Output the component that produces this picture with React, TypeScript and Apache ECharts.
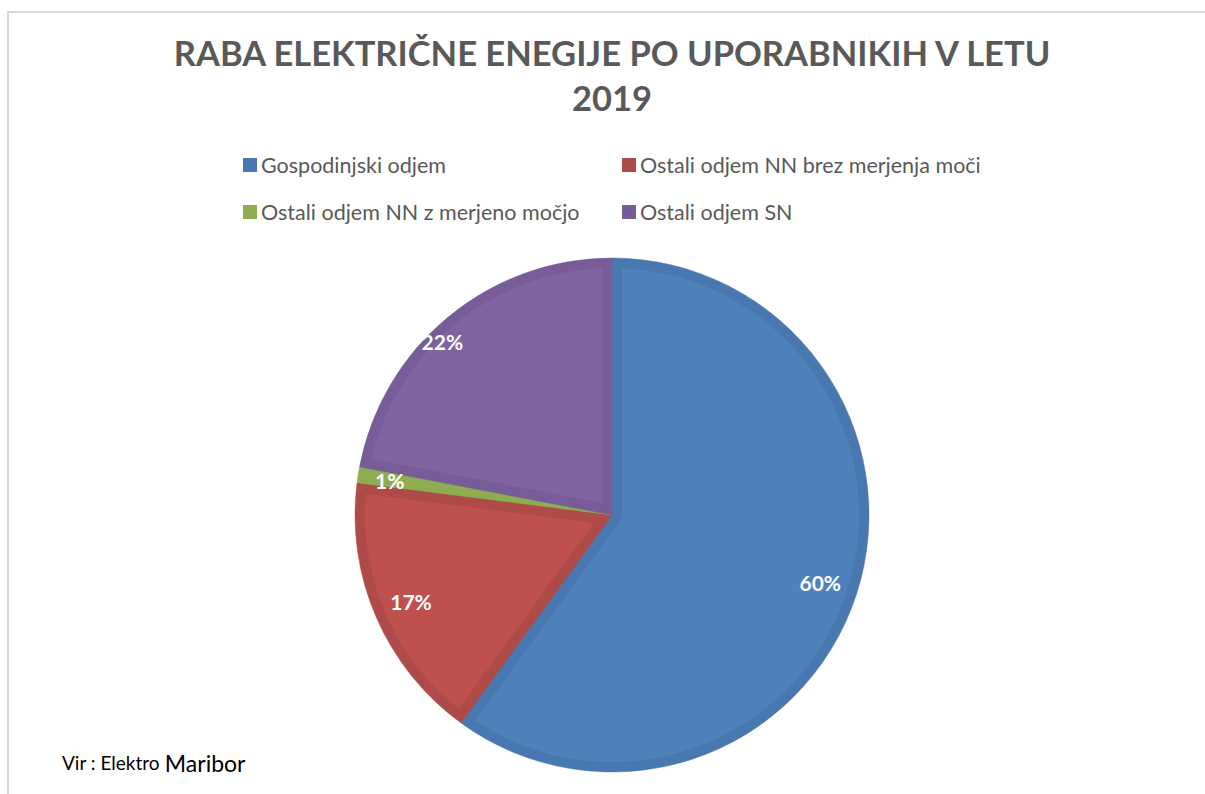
import React, { useEffect, useRef } from "react";
import * as echarts from "echarts";

const TITLE_LINES = ["RABA ELEKTRIČNE ENEGIJE PO UPORABNIKIH V LETU", "2019"];
const CATEGORIES = [
  "Gospodinjski odjem",
  "Ostali odjem NN brez merjenja moči",
  "Ostali odjem NN z merjeno močjo",
  "Ostali odjem SN",
];
const VALUES = [60, 17, 1, 22];
const FILL_COLORS = ["#4F81BD", "#C0504D", "#9BBB59", "#8064A2"];
const EDGE_COLORS = ["#4977B0", "#AE4A47", "#8DAD50", "#775C97"];
const SOURCE_PREFIX = "Vir : Elektro ";
const SOURCE_NAME = "Maribor";

const CX = 612;
const CY = 515;
const R = 257;
const EDGE = 10;

export default function App() {
  const ref = useRef<HTMLDivElement>(null);
  useEffect(() => {
    if (!ref.current) return;
    const chart = echarts.init(ref.current, undefined, { renderer: "svg" });
    const total = VALUES.reduce((a, b) => a + b, 0);
    const starts: number[] = [];
    let acc = 0;
    VALUES.forEach((v) => {
      starts.push(acc);
      acc += v;
    });
    const u = (phi: number) => [Math.sin(phi), -Math.cos(phi)];

    const renderItem = (params: any, api: any) => {
      const i = params.dataIndex;
      const v = api.value(0);
      const phi0 = (starts[i] / total) * Math.PI * 2;
      const phi1 = phi0 + (v / total) * Math.PI * 2;
      const theta = phi1 - phi0;
      const children: any[] = [
        {
          type: "sector",
          shape: {
            cx: CX,
            cy: CY,
            r0: 0,
            r: R,
            startAngle: phi0 - Math.PI / 2,
            endAngle: phi1 - Math.PI / 2,
            clockwise: true,
          },
          style: { fill: EDGE_COLORS[i], stroke: EDGE_COLORS[i], lineWidth: 0.5 },
        },
      ];
      const Ri = R - EDGE;
      const delta = Math.asin(EDGE / Ri);
      const a0 = phi0 + delta;
      const a1 = phi1 - delta;
      let valid = a1 > a0;
      const pts: number[][] = [];
      if (valid) {
        const steps = Math.max(4, Math.ceil((a1 - a0) / 0.02));
        for (let k = 0; k <= steps; k++) {
          const a = a0 + ((a1 - a0) * k) / steps;
          const d = u(a);
          pts.push([CX + Ri * d[0], CY + Ri * d[1]]);
        }
        if (theta < Math.PI) {
          const dist = EDGE / Math.sin(theta / 2);
          if (dist >= Ri * Math.cos(theta / 2) - 1) valid = false;
          const m = u((phi0 + phi1) / 2);
          pts.push([CX + dist * m[0], CY + dist * m[1]]);
        } else {
          const n1 = [-Math.cos(phi1), -Math.sin(phi1)];
          const n0 = [Math.cos(phi0), Math.sin(phi0)];
          pts.push([CX + EDGE * n1[0], CY + EDGE * n1[1]]);
          pts.push([CX + EDGE * n0[0], CY + EDGE * n0[1]]);
        }
      }
      if (valid) {
        children.push({
          type: "polygon",
          shape: { points: pts },
          style: { fill: FILL_COLORS[i] },
        });
      }
      return { type: "group", children };
    };

    const pieData = CATEGORIES.map((name, i) => ({
      name,
      value: VALUES[i],
      itemStyle: { color: EDGE_COLORS[i] },
    }));

    const legendText = {
      fontFamily: "Lato",
      fontSize: 21.5,
      color: "#595959",
      lineHeight: 20,
      padding: [0, 0, 0, -1],
    };

    chart.setOption({
      animation: false,
      backgroundColor: "#ffffff",
      graphic: [
        {
          type: "polyline",
          shape: { points: [[8, 900], [8, 12], [1300, 12]] },
          style: { stroke: "#d9d9d9", lineWidth: 2, fill: "none" },
          silent: true,
        },
        {
          type: "text",
          x: 612,
          y: 35,
          style: {
            text: TITLE_LINES[0],
            fill: "#595959",
            font: "bold 34.5px Lato",
            textAlign: "center",
            textVerticalAlign: "top",
          },
        },
        {
          type: "text",
          x: 612,
          y: 80,
          style: {
            text: TITLE_LINES[1],
            fill: "#595959",
            font: "bold 34.5px Lato",
            textAlign: "center",
            textVerticalAlign: "top",
          },
        },
        {
          type: "text",
          x: 62,
          y: 751,
          style: {
            text: "{a|" + SOURCE_PREFIX + "}{b|" + SOURCE_NAME + "}",
            rich: {
              a: { fontSize: 19, fontFamily: "Lato", fill: "#000000", color: "#000000" },
              b: { fontSize: 23, fontFamily: "Lato", fill: "#000000", color: "#000000" },
            },
          },
        },
      ],
      legend: [
        {
          orient: "vertical",
          left: 243,
          top: 154,
          data: [CATEGORIES[0], CATEGORIES[2]],
          icon: "rect",
          itemWidth: 14,
          itemHeight: 14,
          itemGap: 25,
          padding: 0,
          selectedMode: false,
          textStyle: legendText,
        },
        {
          orient: "vertical",
          left: 622,
          top: 154,
          data: [CATEGORIES[1], CATEGORIES[3]],
          icon: "rect",
          itemWidth: 14,
          itemHeight: 14,
          itemGap: 25,
          padding: 0,
          selectedMode: false,
          textStyle: legendText,
        },
      ],
      series: [
        {
          type: "pie",
          z: 1,
          center: [CX, CY],
          radius: [0, R - 1],
          startAngle: 90,
          clockwise: true,
          silent: true,
          label: { show: false },
          labelLine: { show: false },
          data: pieData,
        },
        {
          type: "custom",
          z: 2,
          coordinateSystem: "none",
          silent: true,
          renderItem,
          data: VALUES.map((v) => [v]),
        },
        {
          type: "pie",
          z: 3,
          center: [CX, CY],
          radius: [175, R],
          startAngle: 90,
          clockwise: true,
          silent: true,
          itemStyle: { color: "rgba(0,0,0,0)" },
          label: {
            show: true,
            position: "inside",
            formatter: "{c}%",
            color: "#ffffff",
            fontFamily: "Lato",
            fontWeight: "bold",
            fontSize: 21,
          },
          labelLine: { show: false },
          data: CATEGORIES.map((name, i) => ({
            name: name + " ",
            value: VALUES[i],
            label: i === 3 ? { offset: [-30, -5] } : i === 2 ? { offset: [-6, 0] } : undefined,
          })),
        },
      ],
    });
    return () => chart.dispose();
  }, []);
  return (
    <div
      ref={ref}
      style={{ position: "fixed", left: 0, top: 0, width: 1205, height: 794 }}
    />
  );
}
